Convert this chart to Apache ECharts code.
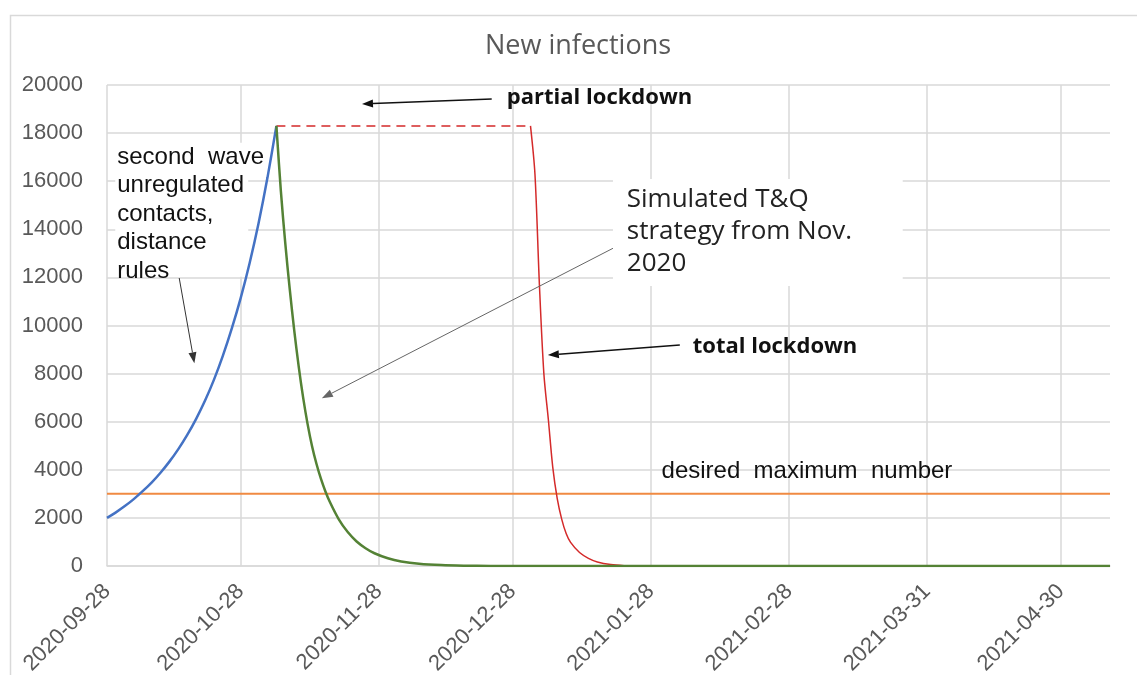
<!DOCTYPE html>
<html>
<head>
<meta charset="utf-8">
<title>New infections</title>
<script src="https://cdn.jsdelivr.net/npm/echarts@6/dist/echarts.min.js"></script>
<style>
  html, body { margin: 0; padding: 0; background: #fff; }
  #chart { width: 1137px; height: 675px; }
</style>
</head>
<body>
<div id="chart"></div>
<script>
// second wave, unregulated contacts (blue)
const waveDates = ['2020-09-28', '2020-09-30', '2020-10-02', '2020-10-04', '2020-10-06', '2020-10-08',
  '2020-10-10', '2020-10-12', '2020-10-14', '2020-10-16', '2020-10-18', '2020-10-20', '2020-10-22',
  '2020-10-24', '2020-10-26', '2020-10-28', '2020-10-30', '2020-11-01', '2020-11-03', '2020-11-05'];
const waveValues = [2000, 2230, 2490, 2780, 3110, 3470, 3880, 4340, 4860, 5450, 6120, 6880, 7750,
  8750, 9880, 11150, 12600, 14250, 16150, 18300];

// simulated T&Q strategy from Nov. 2020 (green)
const tqDates = ['2020-11-05', '2020-11-06', '2020-11-07', '2020-11-08', '2020-11-09', '2020-11-10',
  '2020-11-11', '2020-11-12', '2020-11-13', '2020-11-14', '2020-11-15', '2020-11-16', '2020-11-17',
  '2020-11-19', '2020-11-21', '2020-11-23', '2020-11-25', '2020-11-27', '2020-11-30', '2020-12-03',
  '2020-12-07', '2020-12-12', '2020-12-17', '2020-12-23', '2021-01-01', '2021-05-11'];
const tqValues = [18300, 15600, 13400, 11500, 9800, 8300, 7000, 5900, 4980, 4240, 3620, 3100, 2660,
  1940, 1410, 1020, 740, 530, 320, 190, 95, 38, 15, 4, 0, 0];

// partial lockdown plateau (red dashed)
const partialDates = ['2020-11-05', '2021-01-01'];
const partialValues = [18300, 18300];

// total lockdown (red)
const totalDates = ['2021-01-01', '2021-01-02', '2021-01-03', '2021-01-04', '2021-01-05', '2021-01-06',
  '2021-01-07', '2021-01-08', '2021-01-09', '2021-01-10', '2021-01-12', '2021-01-14', '2021-01-16',
  '2021-01-19', '2021-01-22', '2021-01-25'];
const totalValues = [18300, 16300, 11700, 8000, 6100, 4100, 2800, 1950, 1350, 980, 560, 320, 170, 60, 15, 0];

// desired maximum number (orange)
const limitDates = ['2020-09-28', '2021-05-11'];
const limitValues = [3000, 3000];

// x axis tick labels
const tickDates = ['2020-09-28', '2020-10-28', '2020-11-28', '2020-12-28', '2021-01-28',
  '2021-02-28', '2021-03-31', '2021-04-30'];

const toTime = d => echarts.number.parseDate(d).getTime();
const zip = (d, v) => d.map((x, i) => [toTime(x), v[i]]);
const tickTimes = tickDates.map(toTime);

const labelColor = '#595959';
const gridColor = '#d9d9d9';

const chart = echarts.init(document.getElementById('chart'));

const option = {
  animation: false,
  backgroundColor: '#fff',
  title: {
    text: 'New infections',
    left: 485,
    top: 33,
    padding: 0,
    textStyle: { fontFamily: 'Open Sans', fontWeight: 'normal', fontSize: 27, color: labelColor }
  },
  grid: { left: 107, right: 27, top: 85, bottom: 109, outerBoundsMode: 'none', containLabel: false },
  xAxis: {
    type: 'value',
    min: toTime('2020-09-28'),
    max: toTime('2021-05-11'),
    axisLine: { lineStyle: { color: gridColor, width: 1.5 } },
    axisTick: { show: false, customValues: tickTimes },
    axisLabel: {
      customValues: tickTimes,
      rotate: 45,
      margin: 22,
      color: labelColor,
      fontSize: 22,
      fontFamily: 'Liberation Sans',
      formatter: v => echarts.time.format(v, '{yyyy}-{MM}-{dd}', false)
    },
    splitLine: { show: true, lineStyle: { color: gridColor, width: 1.5 } }
  },
  yAxis: {
    type: 'value',
    min: 0,
    max: 20000,
    interval: 2000,
    axisLine: { show: false },
    axisTick: { show: false },
    axisLabel: {
      margin: 24, color: labelColor, fontSize: 22, fontFamily: 'Liberation Sans',
      formatter: v => String(v)
    },
    splitLine: { lineStyle: { color: gridColor, width: 1.5 } }
  },
  series: [
    {
      name: 'desired maximum number', type: 'line', data: zip(limitDates, limitValues),
      showSymbol: false, lineStyle: { color: '#f08a42', width: 2 }
    },
    {
      name: 'partial lockdown', type: 'line', data: zip(partialDates, partialValues),
      showSymbol: false, lineStyle: { color: '#d42a2a', width: 1.5, type: [9, 6] }
    },
    {
      name: 'total lockdown', type: 'line', data: zip(totalDates, totalValues),
      showSymbol: false, smooth: 0.3, lineStyle: { color: '#d42a2a', width: 1.5 }
    },
    {
      name: 'second wave', type: 'line', data: zip(waveDates, waveValues),
      showSymbol: false, smooth: 0.3, lineStyle: { color: '#4472c4', width: 2.5 }
    },
    {
      name: 'T&Q', type: 'line', data: zip(tqDates, tqValues),
      showSymbol: false, smooth: 0.3, lineStyle: { color: '#548235', width: 2.5 }
    }
  ]
};
chart.setOption(option);

// annotations: anchors given as [days after 2020-09-28, value]
const start = toTime('2020-09-28');
const at = (days, v) => chart.convertToPixel({ gridIndex: 0 }, [start + days * 864e5, v]);

function arrow(p0, p1, width, color, hl, hw) {
  const dx = p1[0] - p0[0], dy = p1[1] - p0[1];
  const len = Math.hypot(dx, dy);
  const ux = dx / len, uy = dy / len;
  const bx = p1[0] - ux * hl, by = p1[1] - uy * hl;
  return [
    { type: 'line', z: 100, shape: { x1: p0[0], y1: p0[1], x2: bx, y2: by },
      style: { stroke: color, lineWidth: width } },
    { type: 'polygon', z: 100,
      shape: { points: [p1, [bx - uy * hw / 2, by + ux * hw / 2], [bx + uy * hw / 2, by - ux * hw / 2]] },
      style: { fill: color } }
  ];
}

function label(p, text, font, fill, extra) {
  return {
    type: 'text', z: 100, x: p[0], y: p[1],
    style: Object.assign({ text: text, font: font, fill: fill, verticalAlign: 'middle' }, extra || {})
  };
}

const boxTL = at(113.5, 16091), boxBR = at(178.5, 11642);
const waveTL = at(2.3, 17598);

chart.setOption({
  graphic: [
    { type: 'rect', z: 0, silent: true, shape: { x: 10.5, y: 15.5, width: 1150, height: 700 },
      style: { fill: 'none', stroke: '#d9d9d9', lineWidth: 1.5 } },
    { type: 'rect', z: 1, shape: { x: waveTL[0] - 2, y: waveTL[1], width: 133, height: 134 },
      style: { fill: '#fff' } },
    { type: 'rect', z: 1, shape: { x: boxTL[0], y: boxTL[1], width: boxBR[0] - boxTL[0], height: boxBR[1] - boxTL[1] },
      style: { fill: '#fff' } },
    label(at(89.7, 19460), 'partial lockdown', 'bold 22px "Open Sans"', '#111'),
    label(at(131.4, 9106), 'total lockdown', 'bold 22px "Open Sans"', '#111'),
    label(at(124.4, 3950), 'desired  maximum  number', '24px "Liberation Sans"', '#111'),
    label(waveTL, 'second  wave\nunregulated\ncontacts,\ndistance\nrules', '24px "Liberation Sans"', '#111',
      { verticalAlign: 'top', lineHeight: 28.5 }),
    label(at(116.6, 15884), 'Simulated T&Q\nstrategy from Nov.\n2020', '26px "Open Sans"', '#222',
      { verticalAlign: 'top', lineHeight: 32 })
  ]
    .concat(arrow(at(86.3, 19418), at(57.2, 19210), 1.5, '#111', 11, 8))
    .concat(arrow(at(128.5, 9189), at(98.9, 8773), 1.5, '#111', 11, 8))
    .concat(arrow(at(16.2, 11975), at(19.6, 8428), 1, '#333', 11, 8))
    .concat(arrow(at(113.5, 13210), at(48.2, 6973), 1, '#666', 11, 8))
});
</script>
</body>
</html>
